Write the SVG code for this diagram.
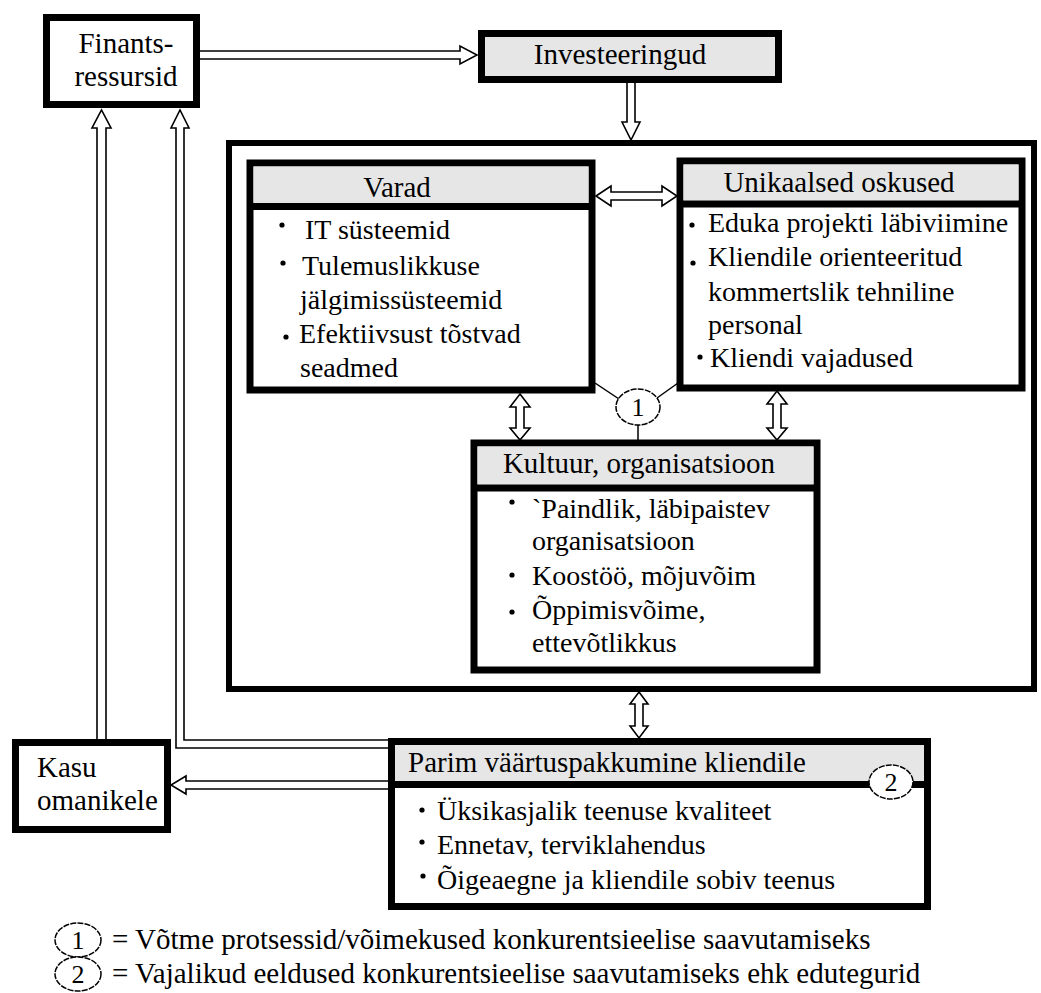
<svg xmlns="http://www.w3.org/2000/svg" width="1041" height="993" viewBox="0 0 1041 993">
<style>
text{font-family:"Liberation Serif","Times New Roman",serif;fill:#000}
.t{font-size:28px}
.h{font-size:29px}
.lg{font-size:29px}
.n{font-size:26px}
.box{fill:#fff;stroke:#000;stroke-width:7}
.gbox{fill:#e6e6e6;stroke:#000;stroke-width:7}
.hd{fill:#e6e6e6}
.sep{stroke:#000;stroke-width:7}
.arr{fill:#fff;stroke:#000;stroke-width:1.6;stroke-linejoin:miter}
.thin{stroke:#000;stroke-width:1.5;fill:none}
.ell{fill:#fff;stroke:#000;stroke-width:1.5;stroke-dasharray:6 1.2}
.b{fill:#000}
.c{text-anchor:middle}
</style>

<g id="container">
<rect x="229" y="143" width="805" height="546" fill="#fff" stroke="#000" stroke-width="6"/>
</g>

<g id="connectors">
<path class="arr" d="M200,51 H460 V46 L477,55 L460,64 V59 H200"/>
<path class="arr" d="M627,83 V122 H622 L631,140 L640,122 H635 V83"/>
<path class="arr" d="M97,740 V128 H92 L101.5,110 L111,128 H106 V740"/>
<path class="arr" d="M390,748 H176 V128 H171 L180,110 L189,128 H184 V740 H390"/>
<path class="arr" d="M390,781 H186 V776 L171,785 L186,794 V789 H390"/>
<path class="arr" d="M596,196 L611,186 V192 H662 V186 L677,196 L662,206 V200 H611 V206 Z"/>
<path class="arr" d="M520,394 L530,407 H524 V428 H530 L520,440 L510,428 H516 V407 H510 Z"/>
<path class="arr" d="M777,391 L787,404 H781 V428 H787 L777,440 L767,428 H773 V404 H767 Z"/>
<path class="arr" d="M639,692 L648,704 H643 V726 H648 L639,738 L630,726 H635 V704 H630 Z"/>
<line class="thin" x1="595" y1="383" x2="619" y2="399"/>
<line class="thin" x1="657" y1="398" x2="678" y2="383"/>
<line class="thin" x1="638" y1="425" x2="638" y2="441"/>
</g>

<g id="finants">
<rect class="box" x="46.5" y="17.5" width="150" height="87"/>
<text class="h c" x="126" y="53">Finants-</text>
<text class="h c" x="126" y="86">ressursid</text>
</g>

<g id="investeeringud">
<rect class="gbox" x="481.5" y="33.5" width="297" height="46"/>
<text class="h c" x="620" y="64">Investeeringud</text>
</g>

<g id="varad">
<rect class="box" x="250" y="163" width="342" height="227"/>
<rect class="hd" x="253.5" y="166.5" width="335" height="37"/>
<line class="sep" x1="250" y1="206.5" x2="592" y2="206.5"/>
<text class="h c" x="397" y="197">Varad</text>
<circle class="b" cx="282" cy="225" r="2.6"/>
<text class="t" x="305" y="239">IT süsteemid</text>
<circle class="b" cx="283" cy="263" r="2.6"/>
<text class="t" x="302" y="275">Tulemuslikkuse</text>
<text class="t" x="300" y="309">jälgimissüsteemid</text>
<circle class="b" cx="286" cy="337" r="2.6"/>
<text class="t" x="299" y="343">Efektiivsust tõstvad</text>
<text class="t" x="300" y="377">seadmed</text>
</g>

<g id="unikaalsed">
<rect class="box" x="680" y="161" width="342" height="227"/>
<rect class="hd" x="683.5" y="164.5" width="335" height="36"/>
<line class="sep" x1="680" y1="204" x2="1022" y2="204"/>
<text class="h c" x="839" y="192">Unikaalsed oskused</text>
<circle class="b" cx="692" cy="225" r="2.6"/>
<text class="t" x="708" y="232">Eduka projekti läbiviimine</text>
<circle class="b" cx="693" cy="263" r="2.6"/>
<text class="t" x="708" y="266">Kliendile orienteeritud</text>
<text class="t" x="708" y="301">kommertslik tehniline</text>
<text class="t" x="708" y="334">personal</text>
<circle class="b" cx="700" cy="357" r="2.6"/>
<text class="t" x="710" y="367">Kliendi vajadused</text>
</g>

<g id="circle1">
<ellipse class="ell" cx="638" cy="407" rx="22" ry="18"/>
<text class="n c" x="638" y="416">1</text>
</g>

<g id="kultuur">
<rect class="box" x="474" y="443" width="343" height="227"/>
<rect class="hd" x="477.5" y="446.5" width="336" height="38"/>
<line class="sep" x1="474" y1="488" x2="817" y2="488"/>
<text class="h c" x="639" y="473">Kultuur, organisatsioon</text>
<circle class="b" cx="512" cy="502" r="2.6"/>
<text class="t" x="532" y="518">`Paindlik, läbipaistev</text>
<text class="t" x="532" y="550">organisatsioon</text>
<circle class="b" cx="512" cy="575" r="2.6"/>
<text class="t" x="532" y="585">Koostöö, mõjuvõim</text>
<circle class="b" cx="512" cy="612" r="2.6"/>
<text class="t" x="532" y="619">Õppimisvõime,</text>
<text class="t" x="532" y="652">ettevõtlikkus</text>
</g>

<g id="kasu">
<rect class="box" x="15.5" y="742.5" width="152" height="87"/>
<text class="h" x="37" y="777">Kasu</text>
<text class="h" x="37" y="810">omanikele</text>
</g>

<g id="parim">
<rect class="box" x="391.5" y="741.5" width="536" height="165"/>
<rect class="hd" x="395" y="745" width="529" height="36"/>
<line class="sep" x1="391" y1="784.5" x2="928" y2="784.5"/>
<text class="h" x="408" y="772">Parim väärtuspakkumine kliendile</text>
<circle class="b" cx="422" cy="810" r="2.6"/>
<text class="t" x="437" y="820">Üksikasjalik teenuse kvaliteet</text>
<circle class="b" cx="422" cy="842" r="2.6"/>
<text class="t" x="437" y="854">Ennetav, terviklahendus</text>
<circle class="b" cx="423" cy="876" r="2.6"/>
<text class="t" x="437" y="889">Õigeaegne ja kliendile sobiv teenus</text>
<ellipse class="ell" cx="891" cy="782" rx="22" ry="17"/>
<text class="n c" x="891" y="791">2</text>
</g>

<g id="legend">
<ellipse class="ell" cx="78" cy="940" rx="23" ry="17"/>
<text class="n c" x="78" y="949">1</text>
<text class="lg" x="112" y="949">= Võtme protsessid/võimekused konkurentsieelise saavutamiseks</text>
<ellipse class="ell" cx="78" cy="974" rx="23" ry="17"/>
<text class="n c" x="78" y="983">2</text>
<text class="lg" x="112" y="983">= Vajalikud eeldused konkurentsieelise saavutamiseks ehk edutegurid</text>
</g>
</svg>
